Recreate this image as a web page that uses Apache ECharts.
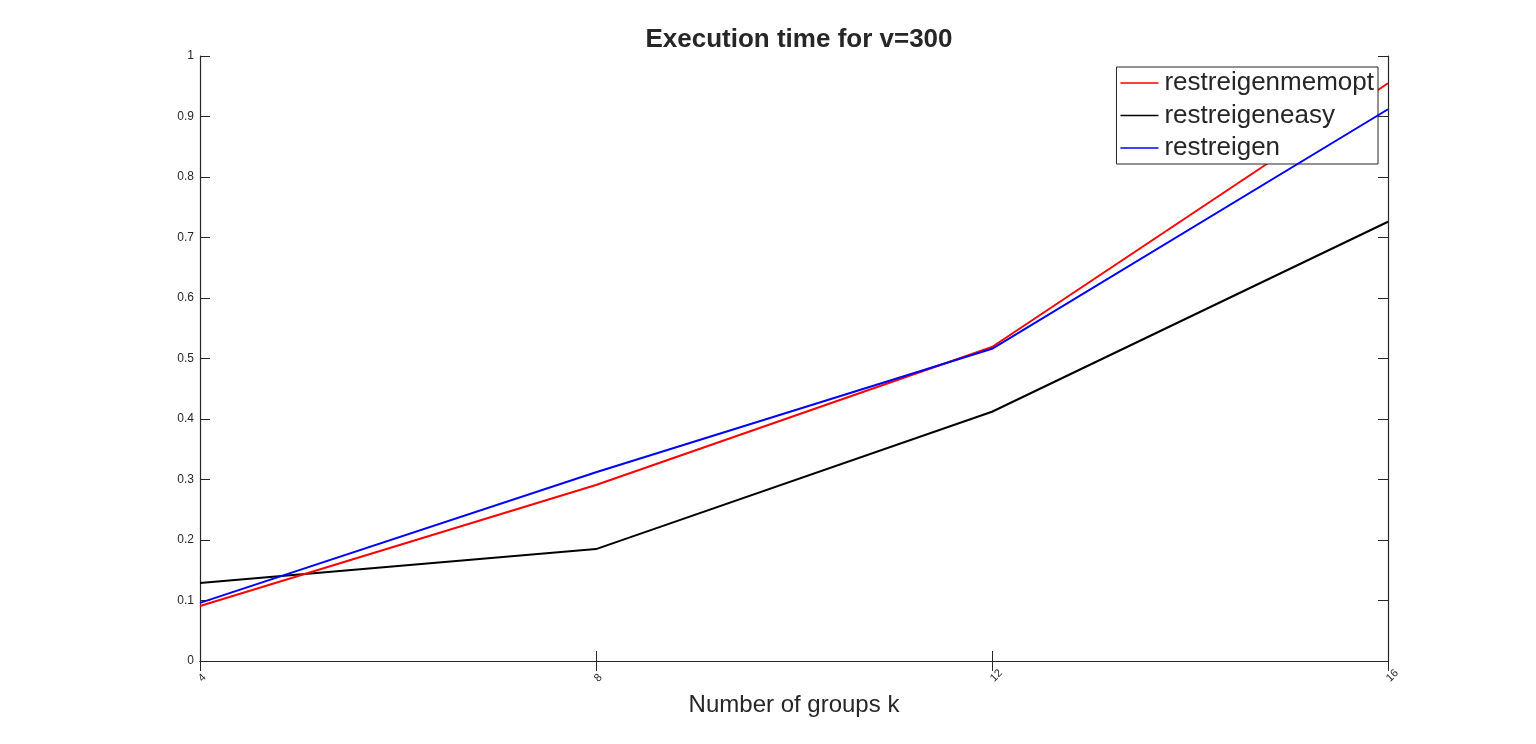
<!DOCTYPE html>
<html><head><meta charset="utf-8">
<script src="https://cdn.jsdelivr.net/npm/echarts@6/dist/echarts.min.js"></script>
<style>html,body{margin:0;padding:0;background:#fff}#c{width:1536px;height:744px}</style>
</head><body><div id="c"></div>
<script>
const groups = [4, 8, 12, 16];
const memopt = [0.091, 0.291, 0.519, 0.955];
const easy = [0.129, 0.185, 0.412, 0.726];
const restreigen = [0.096, 0.312, 0.516, 0.912];
const yTicks = [0, 0.1, 0.2, 0.3, 0.4, 0.5, 0.6, 0.7, 0.8, 0.9, 1];

const pair = (xs, ys) => xs.map((x, i) => [x, ys[i]]);
const axisCol = '#262626';
const font = 'Liberation Sans, Arial, sans-serif';
const chart = echarts.init(document.getElementById('c'));
chart.setOption({
  animation: false,
  backgroundColor: '#fff',
  title: {
    text: 'Execution time for v=300', left: 794, top: 22, textAlign: 'center',
    textStyle: {fontFamily: font, fontSize: 26, fontWeight: 'bold', color: axisCol}
  },
  grid: {left: 200, right: 148, top: 56, bottom: 83},
  legend: {
    orient: 'vertical', right: 158, top: 67, itemWidth: 38, itemHeight: 2, itemGap: 6.5,
    padding: [3, 4, 3, 4], borderColor: axisCol, borderWidth: 1, backgroundColor: '#fff',
    icon: 'path://M0,0 L38,0 L38,1.6 L0,1.6 Z',
    textStyle: {fontFamily: font, fontSize: 26, lineHeight: 26, color: axisCol, padding: [0, 0, 0, 1]},
    data: ['restreigenmemopt', 'restreigeneasy', 'restreigen']
  },
  xAxis: [{
    type: 'value', min: 4, max: 16, interval: 4,
    name: 'Number of groups k', nameLocation: 'middle', nameGap: 32,
    nameTextStyle: {fontFamily: font, fontSize: 24, color: axisCol},
    axisLine: {lineStyle: {color: axisCol, width: 1.2}},
    axisTick: {inside: true, length: 10, lineStyle: {color: axisCol}},
    axisLabel: {rotate: 45, align: 'left', verticalAlign: 'middle', margin: 19, fontSize: 11, color: axisCol,
      fontFamily: font, formatter: v => groups.includes(v) ? String(v) : ''},
    splitLine: {show: false}
  }, {
    type: 'value', min: 4, max: 16, interval: 4, position: 'top',
    axisLine: {show: true, lineStyle: {color: axisCol, width: 1.2}},
    axisTick: {inside: true, length: 10, lineStyle: {color: axisCol}},
    axisLabel: {show: false}, splitLine: {show: false}
  }],
  yAxis: [{
    type: 'value', min: 0, max: 1, interval: 0.1,
    axisLine: {show: true, lineStyle: {color: axisCol, width: 1.2}},
    axisTick: {show: true, inside: true, length: 10, lineStyle: {color: axisCol}},
    axisLabel: {fontSize: 12, color: axisCol, margin: 6, fontFamily: font,
      formatter: v => { const t = yTicks.find(k => Math.abs(k - v) < 1e-9); return t === undefined ? '' : String(t); }},
    splitLine: {show: false}
  }, {
    type: 'value', min: 0, max: 1, interval: 0.1, position: 'right',
    axisLine: {show: true, lineStyle: {color: axisCol, width: 1.2}},
    axisTick: {show: true, inside: true, length: 10, lineStyle: {color: axisCol}},
    axisLabel: {show: false}, splitLine: {show: false}
  }],
  series: [
    {name: 'restreigenmemopt', type: 'line', data: pair(groups, memopt), showSymbol: false, symbol: 'none',
      color: '#ff0000', lineStyle: {width: 2, color: '#ff0000'}, z: 3},
    {name: 'restreigeneasy', type: 'line', data: pair(groups, easy), showSymbol: false, symbol: 'none',
      color: '#000000', lineStyle: {width: 2, color: '#000000'}, z: 2},
    {name: 'restreigen', type: 'line', data: pair(groups, restreigen), showSymbol: false, symbol: 'none',
      color: '#0000ff', lineStyle: {width: 2, color: '#0000ff'}, z: 4}
  ]
});
</script></body></html>
